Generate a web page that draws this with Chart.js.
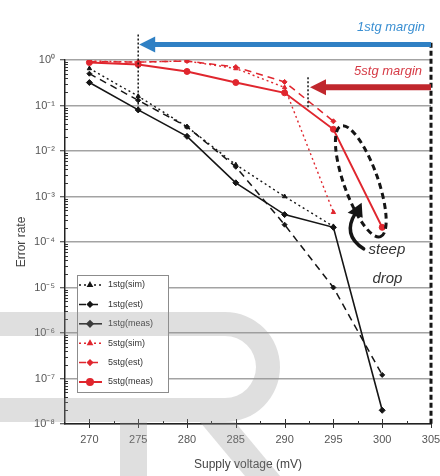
<!DOCTYPE html>
<html lang="en">
<head>
<meta charset="UTF-8">
<title>Error rate vs supply voltage</title>
<script src="https://cdn.jsdelivr.net/npm/chart.js@4.4.1/dist/chart.umd.min.js"></script>
<style>
  html, body { margin: 0; padding: 0; background: #fff; }
  #wrap { width: 440px; height: 476px; }
</style>
</head>
<body>
<div id="wrap"><canvas id="myChart" width="440" height="476"></canvas></div>
<script>
// supply voltage (mV) for each measured / simulated point
const voltages = [270, 275, 280, 285, 290, 295, 300];

// error rates
const sim1  = [0.65, 0.16, 0.034, 0.005, 1.0e-3, 2.2e-4];
const est1  = [0.5, 0.13, 0.034, 0.0045, 2.4e-4, 1.0e-5, 1.2e-7];
const meas1 = [0.32, 0.08, 0.021, 0.002, 4.0e-4, 2.1e-4, 2.0e-8];
const sim5  = [0.95, 0.9, 0.95, 0.65, 0.25, 4.5e-4];
const est5  = [0.92, 0.9, 0.95, 0.7, 0.33, 0.045];
const meas5 = [0.88, 0.8, 0.56, 0.32, 0.19, 0.03, 2.1e-4];

const seriesNames = ['1stg(sim)', '1stg(est)', '1stg(meas)', '5stg(sim)', '5stg(est)', '5stg(meas)'];

const xTicks = [270, 275, 280, 285, 290, 295, 300, 305];
const yTickValues = [1, 1e-1, 1e-2, 1e-3, 1e-4, 1e-5, 1e-6, 1e-7, 1e-8];
const yTickLabels = ['10\u2070', '10\u207b\u00b9', '10\u207b\u00b2', '10\u207b\u00b3', '10\u207b\u2074',
                     '10\u207b\u2075', '10\u207b\u2076', '10\u207b\u2077', '10\u207b\u2078'];

// annotation anchors (data units)
const margin1V = 275, margin5V = 292.4, edgeV = 305;

const BLACK = '#151515', RED = '#e0262e';

function pts(arr) {
  return arr.map((v, i) => ({ x: voltages[i], y: v }));
}

function ds(label, arr, color, dash, style, r, lw) {
  return {
    label: label, data: pts(arr),
    borderColor: color, backgroundColor: color,
    borderWidth: lw, borderDash: dash,
    pointStyle: style, pointRadius: r, pointBorderWidth: 1,
    tension: 0, fill: false
  };
}

const datasets = [
  ds(seriesNames[0], sim1, BLACK, [2, 3], 'triangle', 2.5, 1.4),
  ds(seriesNames[1], est1, BLACK, [7, 5], 'rectRot', 2.5, 1.5),
  ds(seriesNames[2], meas1, BLACK, [], 'rectRot', 3, 1.6),
  ds(seriesNames[3], sim5, RED, [2, 3], 'triangle', 2.5, 1.4),
  ds(seriesNames[4], est5, RED, [7, 5], 'rectRot', 2.5, 1.5),
  ds(seriesNames[5], meas5, RED, [], 'circle', 3, 2)
];

function arrowLeft(ctx, tipX, x1, yy, color, lw, head, half) {
  ctx.strokeStyle = color; ctx.fillStyle = color; ctx.lineWidth = lw; ctx.setLineDash([]);
  ctx.beginPath(); ctx.moveTo(tipX + head - 2, yy); ctx.lineTo(x1, yy); ctx.stroke();
  ctx.beginPath(); ctx.moveTo(tipX, yy); ctx.lineTo(tipX + head, yy - half); ctx.lineTo(tipX + head, yy + half);
  ctx.closePath(); ctx.fill();
}

const decor = {
  id: 'decor',
  beforeDraw(chart) {
    const ctx = chart.ctx;
    ctx.save(); ctx.fillStyle = '#fff'; ctx.fillRect(0, 0, chart.width, chart.height); ctx.restore();
  },
  afterDraw(chart) {
    const { ctx, chartArea: ca, scales: { x, y } } = chart;
    ctx.save();

    // minor ticks
    ctx.strokeStyle = '#333'; ctx.lineWidth = 1;
    for (let e = -8; e < 0; e++) {
      for (let m = 2; m < 10; m++) {
        const py = Math.round(y.getPixelForValue(m * Math.pow(10, e))) + 0.5;
        ctx.beginPath(); ctx.moveTo(ca.left, py); ctx.lineTo(ca.left + 3, py); ctx.stroke();
      }
    }
    for (let v = 270; v <= 305; v += 2.5) {
      const px = Math.round(x.getPixelForValue(v)) + 0.5;
      const major = v % 5 === 0;
      ctx.beginPath(); ctx.moveTo(px, ca.bottom - (major ? 5 : 3)); ctx.lineTo(px, ca.bottom + (major ? 4 : 0)); ctx.stroke();
    }

    // right dashed margin edge
    const ex = x.getPixelForValue(edgeV);
    ctx.strokeStyle = BLACK; ctx.lineWidth = 3; ctx.setLineDash([5, 3]);
    ctx.beginPath(); ctx.moveTo(ex, y.getPixelForValue(Math.pow(10, 0.38))); ctx.lineTo(ex, ca.bottom); ctx.stroke();

    // dotted verticals
    ctx.lineWidth = 1.5; ctx.setLineDash([2, 2]);
    const m1 = x.getPixelForValue(margin1V);
    ctx.beginPath(); ctx.moveTo(m1, y.getPixelForValue(Math.pow(10, 0.56))); ctx.lineTo(m1, y.getPixelForValue(meas1[1])); ctx.stroke();
    const m5 = x.getPixelForValue(margin5V);
    ctx.beginPath(); ctx.moveTo(m5, y.getPixelForValue(Math.pow(10, -0.38))); ctx.lineTo(m5, y.getPixelForValue(Math.pow(10, -1.05))); ctx.stroke();

    // margin arrows
    arrowLeft(ctx, m1 + 1, ex, y.getPixelForValue(Math.pow(10, 0.34)), '#2f80c4', 5, 16, 8);
    arrowLeft(ctx, m5 + 2, ex, y.getPixelForValue(Math.pow(10, -0.6)), '#c0272d', 6, 16, 8);

    ctx.font = 'italic 13px "Liberation Sans", Arial, sans-serif';
    ctx.textAlign = 'right'; ctx.textBaseline = 'middle';
    ctx.fillStyle = '#3a8fd2';
    ctx.fillText('1stg margin', ex - 6, y.getPixelForValue(Math.pow(10, 0.72)));
    ctx.fillStyle = '#d63a45';
    ctx.fillText('5stg margin', ex - 9, y.getPixelForValue(Math.pow(10, -0.25)));

    // dashed ellipse around the steep drop
    const p1 = { x: x.getPixelForValue(voltages[5]), y: y.getPixelForValue(meas5[5]) };
    const p2 = { x: x.getPixelForValue(voltages[6]), y: y.getPixelForValue(meas5[6]) };
    const cx = (p1.x + p2.x) / 2 + 3, cy = (p1.y + p2.y) / 2 + 3;
    const ang = Math.atan2(p2.y - p1.y, p2.x - p1.x) + 0.12;
    const len = Math.hypot(p2.x - p1.x, p2.y - p1.y) / 2 + 4;
    ctx.strokeStyle = BLACK; ctx.lineWidth = 3; ctx.setLineDash([6, 4]);
    ctx.beginPath(); ctx.ellipse(cx, cy, len, 17, ang, 0, Math.PI * 2); ctx.stroke();

    // curved arrow + label
    const ax = x.getPixelForValue(298.1), ay = y.getPixelForValue(Math.pow(10, -4.15));
    ctx.setLineDash([]); ctx.lineWidth = 3.5; ctx.lineCap = 'round';
    ctx.beginPath(); ctx.moveTo(ax, ay); ctx.quadraticCurveTo(ax - 22, ay - 14, ax - 8, ay - 36); ctx.stroke();
    ctx.fillStyle = BLACK;
    ctx.beginPath(); ctx.moveTo(ax - 2, ay - 46); ctx.lineTo(ax - 16, ay - 36); ctx.lineTo(ax - 1, ay - 31); ctx.closePath(); ctx.fill();
    ctx.lineCap = 'butt';

    ctx.font = 'italic 15px "Liberation Sans", Arial, sans-serif';
    ctx.textAlign = 'left'; ctx.fillStyle = '#333';
    ctx.fillText('steep', x.getPixelForValue(298.6), y.getPixelForValue(Math.pow(10, -4.18)));
    ctx.fillText('drop', x.getPixelForValue(299.0), y.getPixelForValue(Math.pow(10, -4.8)));

    // legend box
    const lx = ca.left + 12, ly = 275, lw = 91, lh = 117;
    ctx.fillStyle = '#fff'; ctx.fillRect(lx, ly, lw, lh);
    ctx.strokeStyle = '#8c8c8c'; ctx.lineWidth = 1; ctx.strokeRect(lx + 0.5, ly + 0.5, lw, lh);
    ctx.font = '9px "Liberation Sans", Arial, sans-serif';
    ctx.textBaseline = 'middle';
    chart.data.datasets.forEach((d, i) => {
      const ry = ly + 10 + i * 19.4;
      ctx.strokeStyle = d.borderColor; ctx.lineWidth = d.borderWidth; ctx.setLineDash(d.borderDash);
      ctx.beginPath(); ctx.moveTo(lx + 2, ry); ctx.lineTo(lx + 25, ry); ctx.stroke();
      ctx.setLineDash([]);
      ctx.fillStyle = d.backgroundColor; ctx.strokeStyle = d.borderColor;
      Chart.helpers.drawPoint(ctx, { pointStyle: d.pointStyle, radius: d.pointRadius, rotation: 0, borderWidth: 1 }, lx + 13, ry);
      ctx.fillStyle = '#333';
      ctx.fillText(d.label, lx + 31, ry);
    });

    // faint watermark shapes
    ctx.fillStyle = 'rgba(150,150,150,0.3)';
    ctx.beginPath();
    ctx.moveTo(0, 312); ctx.lineTo(225, 312);
    ctx.arc(225, 367, 55, -Math.PI / 2, Math.PI / 2);
    ctx.lineTo(0, 422); ctx.lineTo(0, 398); ctx.lineTo(225, 398);
    ctx.arc(225, 367, 31, Math.PI / 2, -Math.PI / 2, true);
    ctx.lineTo(0, 336); ctx.closePath(); ctx.fill();
    ctx.fillRect(120, 422, 27, 54);
    ctx.beginPath(); ctx.moveTo(200, 422); ctx.lineTo(235, 422); ctx.lineTo(280, 476); ctx.lineTo(245, 476); ctx.closePath(); ctx.fill();

    ctx.restore();
  }
};

new Chart('myChart', {
  type: 'line',
  data: { datasets: datasets },
  options: {
    responsive: false,
    animation: false,
    devicePixelRatio: 1,
    layout: { padding: { top: 60, right: 9, left: 0, bottom: 0 } },
    plugins: { legend: { display: false }, tooltip: { enabled: false } },
    scales: {
      x: {
        type: 'linear', min: 267.5, max: 305,
        afterBuildTicks: s => { s.ticks = xTicks.map(v => ({ value: v })); },
        afterFit: s => { s.height = 52; s.paddingRight = 0; s.paddingLeft = 0; },
        grid: { display: false, drawTicks: false },
        border: { color: '#222', width: 1.5 },
        ticks: { color: '#555', font: { size: 11, family: '"Liberation Sans", Arial' }, padding: 9, maxRotation: 0 },
        title: { display: true, text: 'Supply voltage (mV)', color: '#444',
                 font: { size: 12, family: '"Liberation Sans", Arial' }, padding: { top: 0, bottom: 4 } }
      },
      y: {
        type: 'logarithmic', min: 1e-8, max: 1,
        afterBuildTicks: s => { s.ticks = yTickValues.map(v => ({ value: v })); },
        afterFit: s => { s.width = 65; s.paddingTop = 0; s.paddingBottom = 0; },
        grid: { color: '#a3a3a3', lineWidth: 1.5, tickLength: 5, tickColor: '#333', tickWidth: 1 },
        border: { color: '#222', width: 1.5 },
        ticks: {
          color: '#555', font: { size: 11, family: '"Liberation Sans", Arial' }, padding: 5,
          callback: v => yTickLabels[yTickValues.findIndex(t => Math.abs(Math.log10(t) - Math.log10(v)) < 1e-6)]
        },
        title: { display: true, text: 'Error rate', color: '#444',
                 font: { size: 12, family: '"Liberation Sans", Arial' }, padding: { top: 14, bottom: 0 } }
      }
    }
  },
  plugins: [decor]
});
</script>
</body>
</html>
